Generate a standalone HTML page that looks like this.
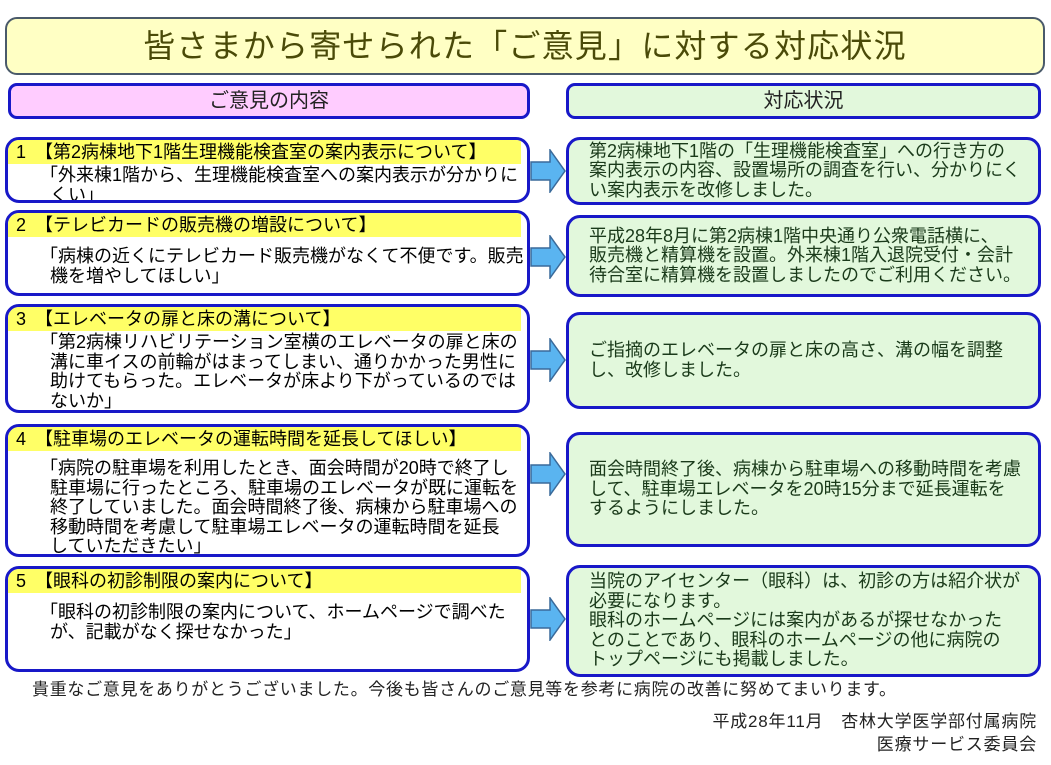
<!DOCTYPE html>
<html><head><meta charset="utf-8"><style>
body{margin:0;width:1051px;height:765px;background:#fff;position:relative;overflow:hidden;font-family:"Liberation Sans","Noto Sans CJK JP",sans-serif;color:#000}
.a{position:absolute;box-sizing:border-box}
.title{left:5px;top:17px;width:1040px;height:58px;background:#ffffc4;border:2px solid #4a5a6a;border-radius:12px;text-align:center;font-size:32px;line-height:54px;color:#4a4a08;letter-spacing:1.2px}
.hl{left:8px;top:83px;width:522px;height:36px;background:#ffccff;border:3px solid #1818c8;border-radius:9px;text-align:center;font-size:20px;line-height:30px;color:#222}
.hr{left:566px;top:83px;width:475px;height:36px;background:#e2f8dc;border:3px solid #1818c8;border-radius:9px;text-align:center;font-size:20px;line-height:30px;color:#222}
.L{left:5px;width:525px;background:#fff;border:3px solid #1818c8;border-radius:14px;overflow:hidden;font-size:18px;line-height:19.5px}
.L .y{background:#ffff66;height:24px;line-height:24px;padding-left:8px;margin-right:6px;white-space:nowrap}
.L .t{padding-left:32px;margin-top:2px;white-space:nowrap}
.L .t span{display:block;padding-left:10px}
.L .t span.f{padding-left:0}
.R{left:566px;width:475px;background:#e2f8dc;border:3px solid #1818c8;border-radius:14px;font-size:18px;line-height:19.5px;color:#1a3a1a;padding-left:20px;display:flex;flex-direction:column;justify-content:center;white-space:nowrap}
.ar{position:absolute;left:530px;width:36px;height:44px}
</style></head><body>
<div class="a title">皆さまから寄せられた「ご意見」に対する対応状況</div>
<div class="a hl">ご意見の内容</div>
<div class="a hr">対応状況</div>

<div class="a L" style="top:137px;height:66px"><div class="y">1　【第2病棟地下1階生理機能検査室の案内表示について】</div><div class="t"><span class="f">「外来棟1階から、生理機能検査室への案内表示が分かりに</span><span>くい」</span></div></div>
<div class="a L" style="top:210px;height:86px"><div class="y">2　【テレビカードの販売機の増設について】</div><div class="t" style="margin-top:10px"><span class="f">「病棟の近くにテレビカード販売機がなくて不便です。販売</span><span>機を増やしてほしい」</span></div></div>
<div class="a L" style="top:304px;height:109px"><div class="y">3　【エレベータの扉と床の溝について】</div><div class="t"><span class="f">「第2病棟リハビリテーション室横のエレベータの扉と床の</span><span>溝に車イスの前輪がはまってしまい、通りかかった男性に</span><span>助けてもらった。エレベータが床より下がっているのでは</span><span>ないか」</span></div></div>
<div class="a L" style="top:424px;height:133px"><div class="y">4　【駐車場のエレベータの運転時間を延長してほしい】</div><div class="t" style="margin-top:8px"><span class="f">「病院の駐車場を利用したとき、面会時間が20時で終了し</span><span>駐車場に行ったところ、駐車場のエレベータが既に運転を</span><span>終了していました。面会時間終了後、病棟から駐車場への</span><span>移動時間を考慮して駐車場エレベータの運転時間を延長</span><span>していただきたい」</span></div></div>
<div class="a L" style="top:566px;height:106px"><div class="y">5　【眼科の初診制限の案内について】</div><div class="t" style="margin-top:10px"><span class="f">「眼科の初診制限の案内について、ホームページで調べた</span><span>が、記載がなく探せなかった」</span></div></div>

<div class="a R" style="top:137px;height:68px">第2病棟地下1階の「生理機能検査室」への行き方の<br>案内表示の内容、設置場所の調査を行い、分かりにく<br>い案内表示を改修しました。</div>
<div class="a R" style="top:215px;height:82px">平成28年8月に第2病棟1階中央通り公衆電話横に、<br>販売機と精算機を設置。外来棟1階入退院受付・会計<br>待合室に精算機を設置しましたのでご利用ください。</div>
<div class="a R" style="top:312px;height:97px">ご指摘のエレベータの扉と床の高さ、溝の幅を調整<br>し、改修しました。</div>
<div class="a R" style="top:432px;height:115px">面会時間終了後、病棟から駐車場への移動時間を考慮<br>して、駐車場エレベータを20時15分まで延長運転を<br>するようにしました。</div>
<div class="a R" style="top:565px;height:112px">当院のアイセンター（眼科）は、初診の方は紹介状が<br>必要になります。<br>眼科のホームページには案内があるが探せなかった<br>とのことであり、眼科のホームページの他に病院の<br>トップページにも掲載しました。</div>

<svg class="ar" style="top:149px" viewBox="0 0 36 44"><polygon points="1,13 20,13 20,1 35,22 20,43 20,31 1,31" fill="#5ab4f0" stroke="#3a6a9a" stroke-width="1.5"/></svg>
<svg class="ar" style="top:235px" viewBox="0 0 36 44"><polygon points="1,13 20,13 20,1 35,22 20,43 20,31 1,31" fill="#5ab4f0" stroke="#3a6a9a" stroke-width="1.5"/></svg>
<svg class="ar" style="top:338px" viewBox="0 0 36 44"><polygon points="1,13 20,13 20,1 35,22 20,43 20,31 1,31" fill="#5ab4f0" stroke="#3a6a9a" stroke-width="1.5"/></svg>
<svg class="ar" style="top:452px" viewBox="0 0 36 44"><polygon points="1,13 20,13 20,1 35,22 20,43 20,31 1,31" fill="#5ab4f0" stroke="#3a6a9a" stroke-width="1.5"/></svg>
<svg class="ar" style="top:597px" viewBox="0 0 36 44"><polygon points="1,13 20,13 20,1 35,22 20,43 20,31 1,31" fill="#5ab4f0" stroke="#3a6a9a" stroke-width="1.5"/></svg>

<div class="a" style="left:32px;top:680px;font-size:17px;line-height:20px;color:#222;white-space:nowrap;letter-spacing:0.7px">貴重なご意見をありがとうございました。今後も皆さんのご意見等を参考に病院の改善に努めてまいります。</div>
<div class="a" style="left:560px;width:477px;top:710px;font-size:17px;line-height:23px;text-align:right;color:#222;letter-spacing:0.8px">平成28年11月　杏林大学医学部付属病院<br>医療サービス委員会</div>
</body></html>
